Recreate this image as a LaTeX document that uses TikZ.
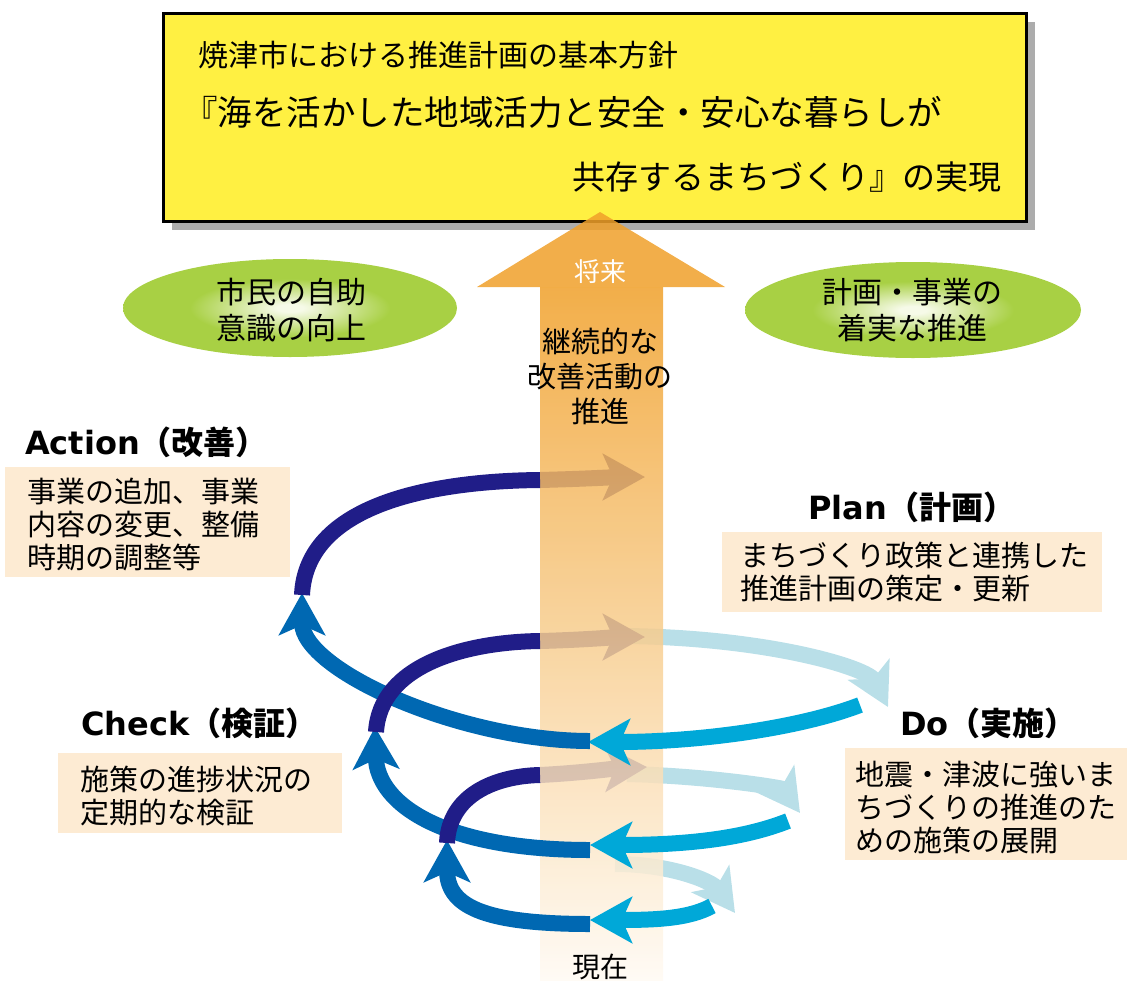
\documentclass[tikz,border=0pt]{standalone}
\usepackage{fontspec}
\setmainfont{Noto Sans CJK JP}
\newfontfamily\lat{DejaVu Sans}
\usetikzlibrary{arrows.meta}
\definecolor{navy}{RGB}{32,29,136}
\definecolor{mblue}{RGB}{0,104,178}
\definecolor{cyanb}{RGB}{0,168,216}
\definecolor{lblue}{RGB}{185,223,232}
\definecolor{beige}{RGB}{253,235,211}
\definecolor{ttlyellow}{RGB}{255,240,66}
\definecolor{shadowgray}{RGB}{172,172,172}
\definecolor{orng}{RGB}{240,160,42}
\definecolor{orngpale}{RGB}{255,250,243}
\definecolor{ellg}{RGB}{168,208,68}
\definecolor{ellc}{RGB}{246,250,232}
\pgfdeclareradialshading{ellshade}{\pgfpoint{0bp}{0bp}}{color(0bp)=(ellc); color(2bp)=(ellc); color(15bp)=(ellg); color(50bp)=(ellg)}
\begin{document}
\begin{tikzpicture}[x=1pt,y=-1pt,
  band/.style={line width=16pt, -{Stealth[length=42pt,width=46pt,inset=10pt]}},
  plainband/.style={line width=16pt},
  txt/.style={inner sep=0pt, font=\fontsize{29}{33}\selectfont, align=left},
  lbl/.style={inner sep=0pt, anchor=west, font=\bfseries\fontsize{32}{36}\selectfont},
  descbox/.style={fill=beige, inner sep=0pt, anchor=north west}]
\useasboundingbox (0,0) rectangle (1127,980);

% ---------- title box ----------
\fill[shadowgray] (172,22) rectangle (1035,230);
\node[draw=black, line width=3pt, fill=ttlyellow, minimum width=863pt, minimum height=208pt,
      inner sep=0pt, anchor=north west] (title) at (162,12) {};
\node[anchor=west, inner sep=0pt, font=\fontsize{30}{30}\selectfont] (t1) at (198,55) {焼津市における推進計画の基本方針};
\node[anchor=west, inner sep=0pt, font=\fontsize{34.5}{34.5}\selectfont] (t2) at (183,112) {『海を活かした地域活力と安全・安心な暮らしが};
\node[anchor=east, inner sep=0pt, font=\fontsize{33}{33}\selectfont] (t3) at (1002,177) {共存するまちづくり』の実現};

% ---------- ellipses ----------
\shade[shading=ellshade] (290,308) ellipse [x radius=167, y radius=49];
\shade[shading=ellshade] (913,310) ellipse [x radius=168, y radius=48];
\node[inner sep=0pt, align=center, font=\fontsize{30}{36}\selectfont] (e1) at (291,310) {市民の自助\\意識の向上};
\node[inner sep=0pt, align=center, font=\fontsize{30}{36}\selectfont] (e2) at (912,310) {計画・事業の\\着実な推進};

% ---------- spiral coordinates ----------
\coordinate (L0s) at (615,864);  \coordinate (L0e) at (735,913);
\coordinate (C0s) at (712,906);  \coordinate (C0e) at (590,920);
\coordinate (M0s) at (590,924);  \coordinate (M0e) at (447,840);
\coordinate (N0s) at (447,843);  \coordinate (N0m) at (540,775);  \coordinate (N0e) at (647,767);
\coordinate (L1s) at (627,774);  \coordinate (L1e) at (800,813);
\coordinate (C1s) at (788,821);  \coordinate (C1e) at (590,845);
\coordinate (M1s) at (590,850);  \coordinate (M1e) at (375,727);
\coordinate (N1s) at (376,732);  \coordinate (N1m) at (540,641);  \coordinate (N1e) at (645,637);
\coordinate (L2s) at (627,636);  \coordinate (L2e) at (888,707);
\coordinate (C2s) at (860,705);  \coordinate (C2e) at (588,742);
\coordinate (M2s) at (590,741);  \coordinate (M2e) at (302,593);
\coordinate (N2s) at (302,595);  \coordinate (N2m) at (540,480);  \coordinate (N2e) at (645,477);

% back (pale) arcs
\draw[band, lblue] (L0s) .. controls (670,864) and (712,881) .. (L0e);
\draw[band, lblue] (L1s) .. controls (710,776) and (782,788) .. (L1e);
\draw[band, lblue] (L2s) .. controls (770,638) and (868,668) .. (L2e);
% navy parts behind the bar
\draw[band, navy] (N0m) .. controls (580,773) and (620,768) .. (N0e);
\draw[band, navy] (N1m) .. controls (580,640) and (620,637) .. (N1e);
\draw[band, navy] (N2m) .. controls (580,479) and (620,477) .. (N2e);

% ---------- orange arrow ----------
\fill[orng, opacity=0.85] (600,212) -- (725,287) -- (477,287) -- cycle;
\shade[top color=orng, bottom color=orngpale, opacity=0.85] (540,287) rectangle (663,980);
\node[inner sep=0pt, text=white, font=\fontsize{26}{26}\selectfont] (fut) at (600,272) {将来};
\node[inner sep=0pt, align=center, font=\fontsize{29}{35}\selectfont] (mid) at (600,376) {継続的な\\改善活動の\\推進};
\node[inner sep=0pt, font=\fontsize{28}{28}\selectfont] (now) at (600,967) {現在};

% front arcs
\draw[band, cyanb] (C0s) .. controls (690,918) and (660,920) .. (C0e);
\draw[band, cyanb] (C1s) .. controls (745,838) and (690,845) .. (C1e);
\draw[band, cyanb] (C2s) .. controls (800,728) and (700,742) .. (C2e);
\draw[band, mblue] (M0s) .. controls (480,924) and (447,905) .. (M0e);
\draw[band, mblue] (M1s) .. controls (445,850) and (377,805) .. (M1e);
\draw[band, mblue] (M2s) .. controls (460,741) and (302,670) .. (M2e);
\draw[plainband, navy] (N0s) .. controls (449,795) and (495,776) .. (N0m);
\draw[plainband, navy] (N1s) .. controls (380,665) and (465,642) .. (N1m);
\draw[plainband, navy] (N2s) .. controls (306,505) and (430,481) .. (N2m);

% ---------- labels ----------
\node[lbl] (act) at (25,442) {{\lat Action}（改善）};
\node[descbox, minimum width=285pt, minimum height=110pt] (actbox) at (5,467) {};
\node[txt, anchor=west] (acttxt) at (27,525) {事業の追加、事業\\内容の変更、整備\\時期の調整等};

\node[lbl] (plan) at (808,507) {{\lat Plan}（計画）};
\node[descbox, minimum width=380pt, minimum height=80pt] (planbox) at (722,532) {};
\node[txt, anchor=west] (plantxt) at (740,572) {まちづくり政策と連携した\\推進計画の策定・更新};

\node[lbl] (chk) at (81,723) {{\lat Check}（検証）};
\node[descbox, minimum width=284pt, minimum height=80pt] (chkbox) at (58,753) {};
\node[txt, anchor=west] (chktxt) at (80,796) {施策の進捗状況の\\定期的な検証};

\node[lbl] (do) at (900,723) {{\lat Do}（実施）};
\node[descbox, minimum width=282pt, minimum height=112pt] (dobox) at (845,748) {};
\node[txt, anchor=west] (dotxt) at (855,807) {地震・津波に強いま\\ちづくりの推進のた\\めの施策の展開};
\end{tikzpicture}
\end{document}
